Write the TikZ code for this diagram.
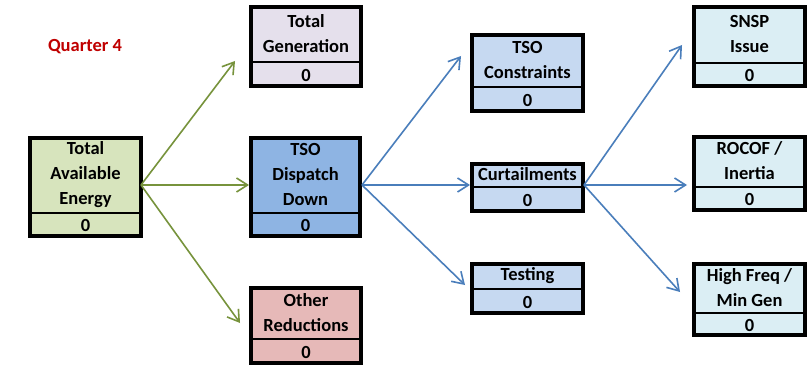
\documentclass[tikz,border=0pt]{standalone}
\usepackage{fontspec}
\setmainfont{Carlito}
\usetikzlibrary{arrows.meta,calc}
\definecolor{qred}{HTML}{C00000}
\definecolor{agreen}{HTML}{77933C}
\definecolor{ablue}{HTML}{4A7EBB}
\definecolor{fgreen}{HTML}{D7E4BD}
\definecolor{flav}{HTML}{E5E0EC}
\definecolor{fblue}{HTML}{8EB4E3}
\definecolor{fred}{HTML}{E6B9B8}
\definecolor{fmid}{HTML}{C6D9F1}
\definecolor{fcyan}{HTML}{DBEEF4}
\tikzset{
  boxframe/.style={draw=black, line width=4pt, inner sep=0pt, outer sep=0pt, anchor=north west},
  boxdivider/.style={draw=black, line width=2pt},
  boxtext/.style={font=\fontsize{18.5}{25}\selectfont\bfseries, align=center, inner sep=0pt},
  garrow/.style={draw=agreen, line width=1.6pt, -{Straight Barb[length=11pt,width=14pt]}},
  barrow/.style={draw=ablue, line width=1.6pt, -{Straight Barb[length=11pt,width=14pt]}},
}
% name, left, top, right, bottom, divider, fill, label
\newcommand\flowbox[8]{%
  \node[boxframe, fill=#7, minimum width={(#4-#2-4)*1pt}, minimum height={(#5-#3-4)*1pt}] (#1) at ({#2+2},{-#3-2}) {};
  \draw[boxdivider] (#1.west |- 0,-#6) -- (#1.east |- 0,-#6);
  \node[boxtext] (#1-t) at ({(#2+#4)/2},{-(#3+#6)/2}) {#8};
  \node[boxtext] (#1-v) at ({(#2+#4)/2},{-(#6+#5)/2}) {0};
}
\begin{document}
\begin{tikzpicture}[x=1pt,y=1pt]
\fill[white] (0,0) rectangle (810,-366);
\useasboundingbox (0,0) rectangle (810,-366);
\node[font=\fontsize{18.5}{22}\selectfont\bfseries, text=qred, inner sep=0pt] (q4) at (85,-47) {Quarter 4};
\flowbox{tae}{28}{136}{143}{238}{213}{fgreen}{Total\\Available\\Energy}
\flowbox{gen}{249}{5}{363}{88}{62}{flav}{Total\\Generation}
\flowbox{tdd}{249}{136}{362}{238}{213}{fblue}{TSO\\Dispatch\\Down}
\flowbox{oth}{249}{286}{363}{365}{339}{fred}{Other\\Reductions}
\flowbox{tcon}{470}{33}{585}{113}{87}{fmid}{TSO\\Constraints}
\flowbox{cur}{470}{162}{585}{213}{187}{fmid}{Curtailments}
\flowbox{test}{470}{262}{585}{315}{289}{fmid}{Testing}
\flowbox{snsp}{692}{5}{807}{88}{63}{fcyan}{SNSP\\Issue}
\flowbox{rocof}{692}{135}{807}{212}{187}{fcyan}{ROCOF /\\Inertia}
\flowbox{hf}{692}{262}{807}{337}{313}{fcyan}{High Freq /\\Min Gen}
% green arrows
\draw[garrow] ([yshift=2]tae.east) -- ([shift={(-16,-14.5)}]gen.west);
\draw[garrow] ([yshift=2]tae.east) -- ([shift={(-2,2)}]tdd.west);
\draw[garrow] ([yshift=2]tae.east) -- ([shift={(-11,2.5)}]oth.west);
% blue arrows
\draw[barrow] ([shift={(2,2)}]tdd.east) -- ([shift={(-11,17)}]tcon.west);
\draw[barrow] ([shift={(2,2)}]tdd.east) -- ([shift={(-2,2.5)}]cur.west);
\draw[barrow] ([shift={(2,2)}]tdd.east) -- ([shift={(-7,3.5)}]test.west);
\draw[barrow] ([shift={(1,2.5)}]cur.east) -- ([shift={(-12,1.5)}]snsp.west);
\draw[barrow] ([shift={(1,2.5)}]cur.east) -- ([shift={(-7,-11.5)}]rocof.west);
\draw[barrow] ([shift={(1,2.5)}]cur.east) -- ([shift={(-14,7.5)}]hf.west);
\end{tikzpicture}
\end{document}
